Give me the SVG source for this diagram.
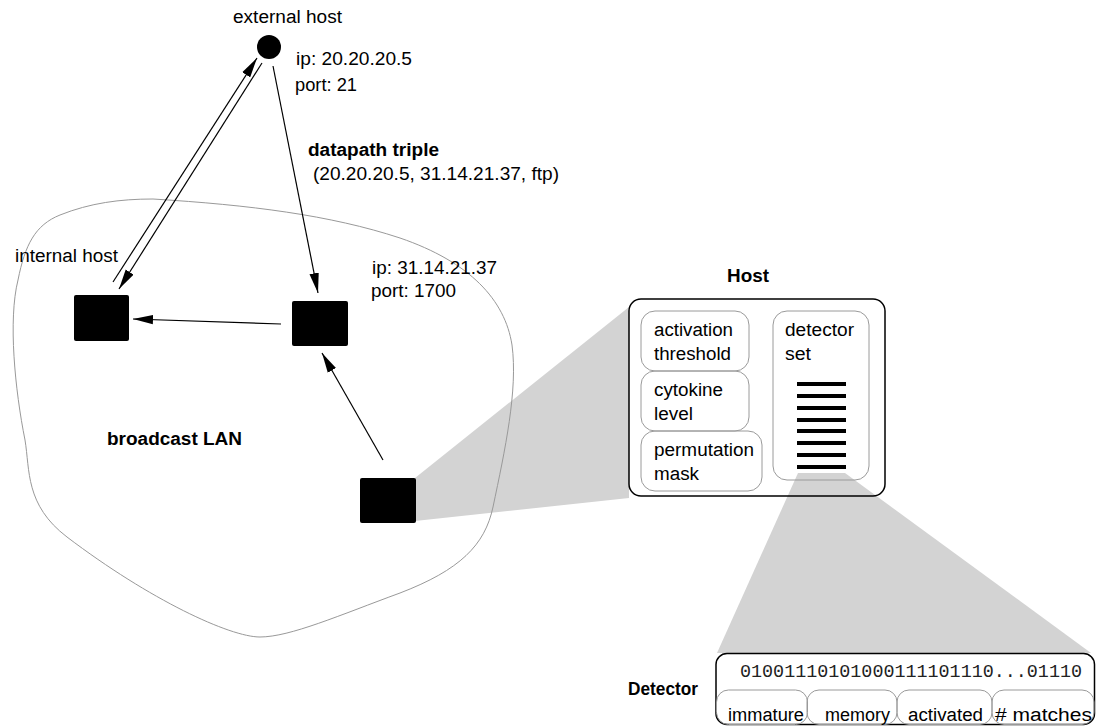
<svg xmlns="http://www.w3.org/2000/svg" width="1096" height="726" viewBox="0 0 1096 726">
<style>
text{font-family:"Liberation Sans",Arial,sans-serif;font-size:18px;fill:#000}
.b{font-weight:bold}
.mono{font-family:"Liberation Mono","Courier New",monospace;font-size:19px;fill:#222}
.conn line{stroke:#000;stroke-width:1.2;fill:none}
.shade{fill:#d3d3d3;stroke:none}
.blob{fill:none;stroke:#999;stroke-width:1}
.inner{fill:none;stroke:#9a9a9a;stroke-width:1}
.outer{fill:none;stroke:#000;stroke-width:1.5}
.host{fill:#000}
.bar{fill:#000}
</style>
<defs>
<marker id="ah" viewBox="0 0 20 10" refX="20" refY="5" markerWidth="20" markerHeight="10" markerUnits="userSpaceOnUse" orient="auto">
<path d="M0,0.3 L20,5 L0,9.7 z" fill="#000"/>
</marker>
</defs>
<rect width="1096" height="726" fill="#fff"/>

<!-- zoom shading -->
<polygon class="shade" points="415,478 629,307 629,498 415,521"/>
<rect x="629" y="299" width="256" height="197" rx="12" fill="#fff"/>
<polygon class="shade" points="798,473 845,473 1091,653 717,653"/>

<!-- LAN outline -->
<path id="lan" class="blob" d="M153,199 C250,205 330,215 400,238 C470,262 505,300 512,345 C518,390 505,450 493,507 C485,545 460,570 400,593 C340,615 290,637 260,637 C230,637 150,600 67,537 C25,505 30,470 25,440 C15,390 8,320 18,280 C25,245 35,225 60,215 C90,203 120,199 153,199 Z"/>
<text class="b" x="107" y="445" textLength="135" lengthAdjust="spacingAndGlyphs">broadcast LAN</text>

<g id="connectors" class="conn">
<line x1="113" y1="282" x2="257" y2="58" marker-end="url(#ah)"/>
<line x1="262" y1="63" x2="119" y2="289" marker-end="url(#ah)"/>
<line x1="273" y1="66" x2="318" y2="293" marker-end="url(#ah)"/>
<line x1="281" y1="324" x2="133" y2="319" marker-end="url(#ah)"/>
<line x1="383" y1="460" x2="322" y2="353" marker-end="url(#ah)"/>
</g>

<g id="external-host">
<circle cx="269" cy="47" r="12" fill="#000"/>
<text x="233" y="23" textLength="109" lengthAdjust="spacingAndGlyphs">external host</text>
<text x="296" y="65" textLength="116" lengthAdjust="spacingAndGlyphs">ip: 20.20.20.5</text>
<text x="295" y="91" textLength="62" lengthAdjust="spacingAndGlyphs">port: 21</text>
</g>

<g id="datapath-label">
<text class="b" x="308" y="156" textLength="131" lengthAdjust="spacingAndGlyphs">datapath triple</text>
<text x="313" y="180" textLength="246" lengthAdjust="spacingAndGlyphs">(20.20.20.5, 31.14.21.37, ftp)</text>
</g>

<g id="internal-host">
<rect class="host" x="74" y="295" width="55" height="46" rx="2"/>
<text x="15" y="262" textLength="103" lengthAdjust="spacingAndGlyphs">internal host</text>
</g>

<g id="middle-host">
<rect class="host" x="292" y="301" width="56" height="45" rx="2"/>
<text x="372" y="274" textLength="125" lengthAdjust="spacingAndGlyphs">ip: 31.14.21.37</text>
<text x="371" y="297" textLength="85" lengthAdjust="spacingAndGlyphs">port: 1700</text>
</g>

<g id="bottom-host">
<rect class="host" x="360" y="478" width="56" height="45" rx="2"/>
</g>

<g id="host-detail">
<text class="b" x="727" y="282" textLength="42" lengthAdjust="spacingAndGlyphs">Host</text>
<rect class="outer" x="629" y="299" width="256" height="197" rx="12"/>
<rect class="inner" x="641" y="311" width="108" height="60" rx="14"/>
<text x="654" y="336" textLength="79" lengthAdjust="spacingAndGlyphs">activation</text>
<text x="654" y="360" textLength="77" lengthAdjust="spacingAndGlyphs">threshold</text>
<rect class="inner" x="641" y="371" width="108" height="60" rx="14"/>
<text x="654" y="396" textLength="69" lengthAdjust="spacingAndGlyphs">cytokine</text>
<text x="654" y="420" textLength="39" lengthAdjust="spacingAndGlyphs">level</text>
<rect class="inner" x="641" y="431" width="121" height="60" rx="14"/>
<text x="654" y="456" textLength="100" lengthAdjust="spacingAndGlyphs">permutation</text>
<text x="654" y="480" textLength="45" lengthAdjust="spacingAndGlyphs">mask</text>
<rect class="inner" x="773" y="311" width="96" height="169" rx="14"/>
<text x="785" y="336" textLength="69" lengthAdjust="spacingAndGlyphs">detector</text>
<text x="785" y="360" textLength="26" lengthAdjust="spacingAndGlyphs">set</text>
<rect class="bar" x="797" y="382" width="49" height="4"/>
<rect class="bar" x="797" y="394" width="49" height="4"/>
<rect class="bar" x="797" y="406" width="49" height="4"/>
<rect class="bar" x="797" y="418" width="49" height="4"/>
<rect class="bar" x="797" y="429" width="49" height="4"/>
<rect class="bar" x="797" y="441" width="49" height="4"/>
<rect class="bar" x="797" y="453" width="49" height="4"/>
<rect class="bar" x="797" y="465" width="49" height="4"/>
</g>

<g id="detector-detail">
<text class="b" x="628" y="695" textLength="70" lengthAdjust="spacingAndGlyphs">Detector</text>
<rect x="716" y="653.5" width="378.5" height="71" rx="11" fill="#fff" stroke="#000" stroke-width="1.5"/>
<text class="mono" x="740" y="677" textLength="342" lengthAdjust="spacingAndGlyphs">01001110101000111101110...01110</text>
<rect class="inner" x="716.5" y="690" width="91" height="34.5" rx="12"/>
<rect class="inner" x="807" y="690" width="90" height="34.5" rx="12"/>
<rect class="inner" x="897" y="690" width="95" height="34.5" rx="12"/>
<rect class="inner" x="992" y="690" width="102" height="34.5" rx="12"/>
<text x="728" y="721" textLength="76" lengthAdjust="spacingAndGlyphs">immature</text>
<text x="825" y="721" textLength="65" lengthAdjust="spacingAndGlyphs">memory</text>
<text x="908" y="721" textLength="75" lengthAdjust="spacingAndGlyphs">activated</text>
<text x="995" y="721" textLength="97" lengthAdjust="spacingAndGlyphs"># matches</text>
</g>
</svg>
